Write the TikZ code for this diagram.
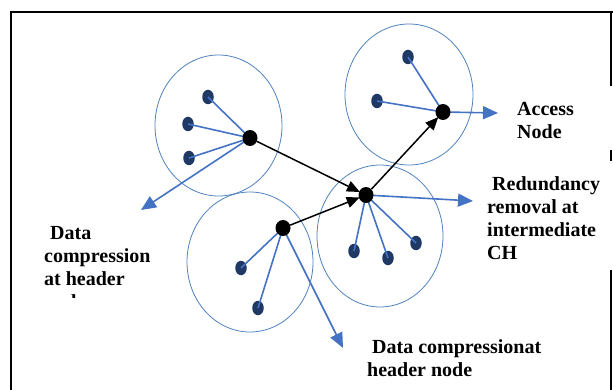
\documentclass[tikz,border=0pt]{standalone}
\usepackage{fontspec}
\setmainfont{Liberation Serif}
\usetikzlibrary{shapes.geometric,arrows.meta}
\definecolor{ringc}{RGB}{79,129,189}
\definecolor{linec}{RGB}{68,114,196}
\definecolor{memc}{RGB}{31,56,100}
\tikzset{
  ring/.style={draw=ringc,line width=0.8pt},
  member/.style={ellipse,fill=memc,minimum width=11.5pt,minimum height=14.5pt,inner sep=0pt},
  chead/.style={ellipse,fill=black,minimum width=15pt,minimum height=16pt,inner sep=0pt},
  link/.style={draw=linec,line width=1.6pt},
  bluearrow/.style={draw=linec,line width=1.6pt,-{Triangle[length=15pt,width=13pt]},fill=linec},
  blackarrow/.style={draw=black,line width=1.5pt,-{Triangle[length=13pt,width=11pt]},shorten >=-1pt},
  lbl/.style={font=\bfseries\fontsize{20}{23}\selectfont,align=left,inner sep=0pt,anchor=north west},
  frame/.style={line width=2pt,black}
}
\begin{document}
\begin{tikzpicture}[x=1pt,y=-1pt]
\useasboundingbox (0,0) rectangle (613,390);
% frame
\draw[frame] (10,12) -- (613,12);
\draw[frame] (11,12) -- (11,390);
\draw[frame] (611,12) -- (611,86);
\draw[frame] (611,150) -- (611,161);
\draw[frame] (611,270) -- (611,390);
% rings
\draw[ring] (218.5,125.5) ellipse [x radius=63.5,y radius=70.5];
\draw[ring] (409,94.5) ellipse [x radius=64,y radius=70.5];
\draw[ring] (250,262) ellipse [x radius=63,y radius=70];
\draw[ring] (380,236) ellipse [x radius=63,y radius=71];
% members
\node[member] (m11) at (208,97) {};
\node[member] (m12) at (188,124) {};
\node[member] (m13) at (189,158) {};
\node[member] (m21) at (408,57) {};
\node[member] (m22) at (377,101) {};
\node[member] (m31) at (354,251) {};
\node[member] (m32) at (388,258) {};
\node[member] (m33) at (416,243) {};
\node[member] (m41) at (241,268) {};
\node[member] (m42) at (258,308) {};
% cluster heads
\coordinate (c1) at (250,138);
\coordinate (c2) at (443,112);
\coordinate (c3) at (366,195);
\coordinate (c4) at (283,228);
% free ends of blue arrows
\coordinate (e1) at (141,210);
\coordinate (e2) at (498,113);
\coordinate (e3) at (473,201);
\coordinate (e4) at (343,348);
% links
\foreach \m in {m11,m12,m13} \draw[link] (\m.center) -- (c1);
\foreach \m in {m21,m22} \draw[link] (\m.center) -- (c2);
\foreach \m in {m31,m32,m33} \draw[link] (\m.center) -- (c3);
\foreach \m in {m41,m42} \draw[link] (\m.center) -- (c4);
\draw[bluearrow] (c1) -- (e1);
\draw[bluearrow] (c2) -- (e2);
\draw[bluearrow] (c3) -- (e3);
\draw[bluearrow] (c4) -- (e4);
\node[chead] (h1) at (c1) {};
\node[chead] (h2) at (c2) {};
\node[chead] (h3) at (c3) {};
\node[chead] (h4) at (c4) {};
\draw[blackarrow] (h1) -- (h3);
\draw[blackarrow] (h4) -- (h3);
\draw[blackarrow] (h3) -- (h2);
% labels
\node[lbl] (l1) at (517,102) {Access\\Node};
\node[lbl] (l2) at (487,176) {\hspace*{5pt}Redundancy\\removal at\\intermediate\\CH};
\begin{scope}
\clip (0,0) rectangle (613,297);
\node[lbl] (l3) at (44,226) {\hspace*{6pt}Data\\compression\\at header\\node};
\end{scope}
\node[lbl] (l4) at (367,339) {\hspace*{5pt}Data compressionat\\header node};
\end{tikzpicture}
\end{document}
